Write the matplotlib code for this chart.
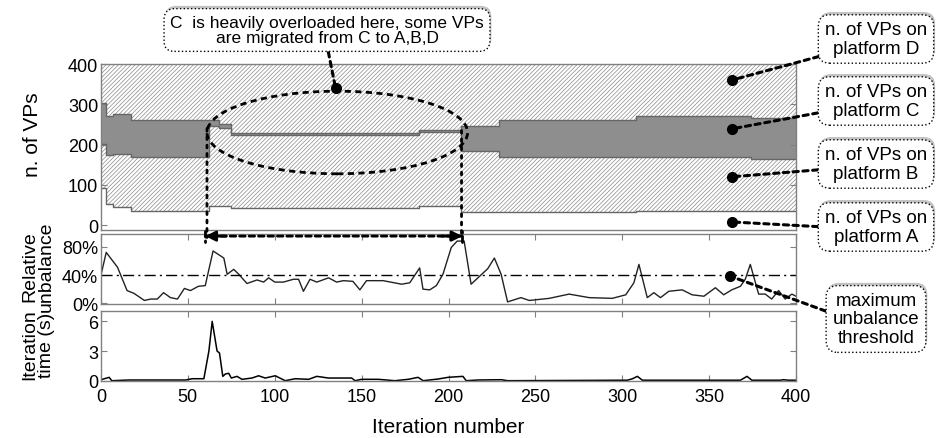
import matplotlib
matplotlib.use("Agg")
import matplotlib.pyplot as plt
import matplotlib.patheffects as pe
from matplotlib.patches import Ellipse, ConnectionPatch
from matplotlib.ticker import FuncFormatter
import numpy as np

plt.rcParams['font.family'] = ['Liberation Sans', 'DejaVu Sans']
plt.rcParams['hatch.linewidth'] = 0.5

# --- VPs per platform (step data, value holds from each start iteration) ---
seg_start = [0, 3, 7, 17, 62, 68, 75, 183, 207, 229, 308, 374, 400]
top_A = [92, 53, 46, 36, 48, 48, 42, 48, 33, 33, 36, 34, 34]
top_B = [201, 174, 176, 168, 245, 240, 224, 232, 183, 168, 168, 165, 165]
top_C = [303, 272, 277, 262, 262, 250, 228, 236, 247, 262, 272, 265, 265]
total_vps = 400

# --- relative unbalance (%) ---
unb_iter = [0, 3, 9.5, 15, 19, 25, 28.6, 32.4, 36, 40, 44, 48, 51.5, 56, 60,
            64.5, 70.7, 72.6, 76.4, 79.3, 84, 89.8, 93.6, 96.5, 100, 105, 110.8,
            113.7, 116.5, 120.3, 124.2, 131, 135.6, 139.5, 145, 149, 152.8,
            162.4, 173, 177.7, 183.4, 185.3, 189.2, 193, 196.8, 201.6, 205,
            209, 213, 222.6, 226.4, 230.3, 234, 241.7, 246.5, 258, 269.4,
            281, 294.3, 302, 306.7, 309.6, 314.4, 318.2, 322, 326.8, 334.5,
            340.2, 347, 353.6, 358.4, 363, 368, 370.8, 373.7, 378.5, 382.3,
            386, 390, 393.8, 397.6, 400]
unb_val = [40, 72, 51, 18, 14, 4, 6, 6, 15, 8, 6, 21, 18, 24, 25,
           74, 64, 41, 48, 41, 28, 33, 30, 36, 30, 30, 34,
           34, 17, 34, 30, 36, 30, 32, 31, 19, 32,
           32, 27, 29, 50, 20, 19, 25, 41, 79, 88,
           88, 27, 49, 64, 41, 2, 8, 4, 7, 13,
           8, 7, 12, 29, 55, 8, 15, 8, 17, 19,
           12, 10, 22, 12, 19, 24, 34, 55, 13, 13,
           6, 18, 6, 13, 10]
threshold = 0.40

# --- iteration time (s) ---
time_iter = [0, 4.7, 6.2, 16, 48.7, 52.5, 59.2, 62.1, 64, 66.8, 68.2, 70.1,
             71.6, 73.5, 75, 78.3, 81.1, 86.9, 90.7, 94.5, 100.3, 106, 111.8,
             119.5, 124.2, 130.9, 144.3, 146.2, 150, 159.6, 169.1, 176.8,
             182.5, 185.4, 194, 199.7, 208.3, 210.2, 217, 230.4, 234.1, 303,
             305.9, 308.7, 311.6, 368, 371.8, 374.6, 390.9, 392.8, 395.6, 400]
time_val = [0.1, 0.34, 0.0, 0.07, 0.07, 0.2, 0.2, 3.0, 6.0, 3.0, 2.8, 0.44,
            0.68, 0.75, 0.27, 0.44, 0.14, 0.27, 0.5, 0.27, 0.5, 0.0, 0.2,
            0.14, 0.44, 0.27, 0.27, 0.0, 0.14, 0.14, 0.0, 0.14,
            0.34, 0.0, 0.17, 0.34, 0.44, 0.0, 0.07, 0.1, 0.0, 0.05,
            0.2, 0.44, 0.05, 0.05, 0.44, 0.05, 0.05, 0.1, 0.05, 0.05]

W, H = 938, 439


def px(x, y):
    # image pixel -> figure fraction
    return (x / W, 1 - y / H)


fig = plt.figure(figsize=(W / 100, H / 100), dpi=100)
ax1 = fig.add_axes([101 / W, 1 - 231 / H, 695 / W, 166 / H])
ax2 = fig.add_axes([101 / W, 1 - 305 / H, 695 / W, 70 / H])
ax3 = fig.add_axes([101 / W, 1 - 382 / H, 695 / W, 70 / H])

spine_col = '#808080'
for ax in (ax1, ax2, ax3):
    for s in ax.spines.values():
        s.set_color(spine_col)
        s.set_linewidth(1.0)
    ax.tick_params(direction='in', top=True, right=True, color=spine_col,
                   length=4, labelsize=13, pad=2)
    ax.set_xlim(0, 400)
    ax.set_xticks(np.arange(0, 401, 50))

# top panel: stacked step areas
x = np.array(seg_start)
a = np.array(top_A)
b = np.array(top_B)
c = np.array(top_C)
d = np.full(len(x), total_vps)
hatch_col = '#8a8a8a'
ax1.fill_between(x, 0, a, step='post', facecolor='white', linewidth=0)
ax1.fill_between(x, a, b, step='post', facecolor='white', edgecolor=hatch_col,
                 hatch='////////', linewidth=0)
ax1.fill_between(x, b, c, step='post', facecolor='#8e8e8e', linewidth=0)
ax1.fill_between(x, c, d, step='post', facecolor='white', edgecolor=hatch_col,
                 hatch='////////', linewidth=0)
for yy in (a, b, c):
    ax1.step(x, yy, where='post', color='#666666', lw=1)
ax1.set_ylim(-12, 400)
ax1.set_yticks([0, 100, 200, 300, 400])
ax1.tick_params(axis='x', bottom=False, top=False, labelbottom=False)

# middle panel: relative unbalance
ax2.plot(unb_iter, np.array(unb_val) / 100, color='#222222', lw=1)
ax2.axhline(threshold, color='black', lw=1, linestyle='-.', dashes=(8, 3, 1.5, 3))
ax2.set_ylim(-0.01, 0.98)
ax2.set_yticks([0, 0.4, 0.8])
ax2.yaxis.set_major_formatter(FuncFormatter(lambda v, p: f"{v * 100:.0f}%"))
ax2.tick_params(axis='x', labelbottom=False)

# bottom panel: iteration time
ax3.plot(time_iter, time_val, color='black', lw=1.1)
ax3.set_ylim(-0.03, 7.05)
ax3.set_yticks([0, 3, 6])
ax3.tick_params(axis='x', pad=5)
ax3.set_xlabel('Iteration number', fontsize=15, labelpad=9)

# y labels
fig.text(*px(33, 135), 'n. of VPs', rotation=90, ha='center', va='center', fontsize=15)
fig.text(*px(38, 267), 'Relative\nunbalance', rotation=90, ha='center', va='center',
         fontsize=14, linespacing=1.0)
fig.text(*px(38, 345), 'Iteration\ntime (s)', rotation=90, ha='center', va='center',
         fontsize=14, linespacing=1.0)

# ellipse around the overloaded phase
ax1.add_patch(Ellipse((136, 230), 150, 205, fill=False, edgecolor='black',
                      lw=2, linestyle=(0, (2.2, 1.6)), zorder=5))

box = dict(boxstyle='round,pad=0.35,rounding_size=0.6', facecolor='white',
           edgecolor='black', linestyle=':', lw=1)
shadow = [pe.withSimplePatchShadow(offset=(1, 2), shadow_rgbFace='#888888', alpha=0.5)]
lead = dict(arrowstyle='-', color='black', lw=2.2, linestyle=(0, (1.7, 1.5)),
            shrinkA=0, shrinkB=0)

# top annotation
ax1.plot([135], [340], 'o', color='black', ms=7, zorder=6)
t = ax1.annotate('C  is heavily overloaded here, some VPs\nare migrated from C to A,B,D',
                 xy=(135, 340), xycoords='data', xytext=px(327, 31),
                 textcoords='figure fraction', ha='center', va='center',
                 fontsize=12.5, linespacing=1.05, bbox=box,
                 arrowprops=dict(lead, relpos=(0.5, 0)), annotation_clip=False)
t.get_bbox_patch().set_path_effects(shadow)

# right annotations
labels = ['n. of VPs on\nplatform D', 'n. of VPs on\nplatform C',
          'n. of VPs on\nplatform B', 'n. of VPs on\nplatform A']
dot_y = [360, 239, 120, 8]
box_y = [40, 102, 165, 228]
rel_y = [0.05, 0.2, 0.35, 0.5]
for lab, dy, by, ry in zip(labels, dot_y, box_y, rel_y):
    ax1.plot([363], [dy], 'o', color='black', ms=7, zorder=6)
    t = ax1.annotate(lab, xy=(363, dy), xycoords='data', xytext=px(876, by),
                     textcoords='figure fraction', ha='center', va='center',
                     fontsize=13.5, linespacing=1.1, bbox=box,
                     arrowprops=dict(lead, relpos=(0, ry)), annotation_clip=False)
    t.get_bbox_patch().set_path_effects(shadow)

ax2.plot([362], [0.385], 'o', color='black', ms=7, zorder=6, clip_on=False)
t = ax2.annotate('maximum\nunbalance\nthreshold', xy=(362, 0.385), xycoords='data',
                 xytext=px(876, 320), textcoords='figure fraction', ha='center',
                 va='center', fontsize=13.5, linespacing=1.1, bbox=box,
                 arrowprops=dict(lead, relpos=(0, 0.6)), annotation_clip=False)
t.get_bbox_patch().set_path_effects(shadow)

# vertical dotted markers and the double arrow
for xi, ytop in ((61, 240), (207.5, 235)):
    fig.add_artist(ConnectionPatch(xyA=(xi, ytop), coordsA=ax1.transData,
                                   xyB=(xi, 0.93), coordsB=ax2.transData,
                                   color='black', lw=2, linestyle=(0, (1, 2))))
ax2.annotate('', xy=(60, 0.95), xytext=(208, 0.95), xycoords='data',
             arrowprops=dict(arrowstyle='|-|,widthA=0.4,widthB=0.4', color='black',
                             lw=2, linestyle=(0, (2, 1.4)), shrinkA=0, shrinkB=0),
             annotation_clip=False)
ax2.annotate('', xy=(60, 0.95), xytext=(72, 0.95),
             arrowprops=dict(arrowstyle='-|>,head_length=0.6,head_width=0.3',
                             color='black', lw=2, shrinkA=0, shrinkB=0),
             annotation_clip=False)
ax2.annotate('', xy=(208, 0.95), xytext=(196, 0.95),
             arrowprops=dict(arrowstyle='-|>,head_length=0.6,head_width=0.3',
                             color='black', lw=2, shrinkA=0, shrinkB=0),
             annotation_clip=False)

fig.savefig('out.png', dpi=100)
plt.close(fig)
